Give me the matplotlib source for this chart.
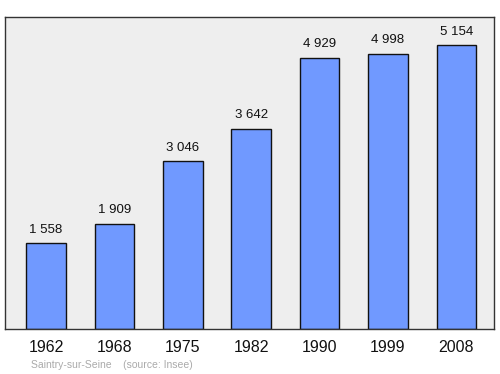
import matplotlib.pyplot as plt

# Data
years = ['1962', '1968', '1975', '1982', '1990', '1999', '2008']
population = [1558, 1909, 3046, 3642, 4929, 4998, 5154]
value_labels = ['1 558', '1 909', '3 046', '3 642', '4 929', '4 998', '5 154']

plt.rcParams['font.family'] = ['Liberation Sans', 'DejaVu Sans']

fig = plt.figure(figsize=(5, 3.74), dpi=100)
ax = fig.add_axes([5 / 500, 1 - 329 / 374, 489 / 500, 312 / 374])
ax.set_facecolor('#eeeeee')

x = list(range(len(years)))
bars = ax.bar(x, population, width=0.58, color='#7099ff', edgecolor='#111111', linewidth=1, zorder=2)

for xi, v, lab in zip(x, population, value_labels):
    ax.annotate(lab, (xi, v), xytext=(0, 5.5), textcoords='offset points',
                ha='center', va='bottom', fontsize=9.5, color='#111111')

ax.set_xlim(-0.6, 6.55)
ax.set_ylim(0, 5668)
ax.set_xticks(x)
ax.set_xticklabels(years, fontsize=11.5, color='#111111')
ax.tick_params(axis='x', length=0, pad=8)
ax.set_yticks([])
for s in ax.spines.values():
    s.set_color('#333333')
    s.set_linewidth(1)

fig.text(31 / 500, 1 - 365 / 374, 'Saintry-sur-Seine    (source: Insee)',
         fontsize=7.5, color='#aaaaaa', va='center', ha='left')

plt.savefig('out.png')
